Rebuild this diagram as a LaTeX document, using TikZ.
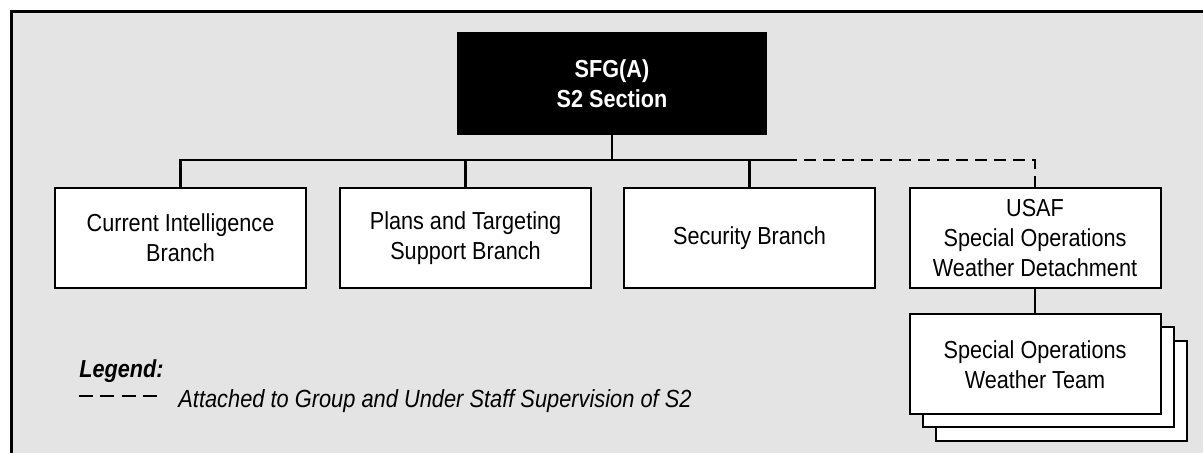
\documentclass[tikz,border=0pt]{standalone}
\usepackage{fontspec}
\setmainfont{Liberation Sans}[FakeStretch=0.88]
\definecolor{panelgray}{RGB}{228,228,228}

\begin{document}
\begin{tikzpicture}[x=0.5pt,y=0.5pt,
	branch/.style	=	{draw=black,fill=white,line width=1pt,minimum width=125.5pt,minimum height=50pt,
							inner sep=0pt,align=center,font=\fontsize{12.3pt}{15pt}\selectfont},
	headbox/.style	=	{branch,fill=black,text=white,minimum width=154pt,minimum height=50.5pt,
							font=\fontsize{12.3pt}{15pt}\selectfont\bfseries},
	conn/.style		=	{draw=black,line width=1.4pt},
	attached/.style	=	{conn,dash pattern=on 6pt off 3.5pt}]

	\useasboundingbox (0,0) rectangle (1203,453);
	\fill[panelgray,draw=black,line width=1.5pt] (11.5,441.5) rectangle (1260,-40);

	% the S2 section and its branches
	\node[headbox] (s2) at (612,369.5) {SFG(A)\\S2 Section};
	\node[branch] (cib)  at (180.5,215) {Current Intelligence\\Branch};
	\node[branch] (stb)  at (465.5,215) {Plans and Targeting\\Support Branch};
	\node[branch] (sec)  at (749.5,215) {Security Branch};
	\node[branch] (usaf) at (1035,215)  {USAF\\Special Operations\\Weather Detachment};

	% stacked weather teams
	\node[branch] (sowtC) at (1061.5,61.5) {};
	\node[branch] (sowtB) at (1048,75.5)   {};
	\node[branch] (sowt)  at (1035,88.5)   {Special Operations\\Weather Team};

	\coordinate (busend) at (797,293);
	\draw[conn] (cib.north) |- (busend);
	\draw[conn] (s2.south) -- (s2.south |- busend);
	\draw[conn] (stb.north) -- (stb.north |- busend);
	\draw[conn] (sec.north) -- (sec.north |- busend);
	\draw[attached,dash phase=6pt] (busend) -| (usaf.north);
	\draw[conn] (usaf.south) -- (sowt.north);

	% legend
	\node[anchor=base west,inner sep=0pt,font=\fontsize{12.3pt}{15pt}\selectfont\bfseries\itshape]
		(legend) at (79,75) {Legend:};
	\coordinate (legL) at (79,57);
	\coordinate (legR) at (157,57);
	\draw[attached,dash pattern=on 7pt off 3.65pt] (legL) -- (legR);
	\node[anchor=base west,inner sep=0pt,font=\fontsize{12.4pt}{15pt}\selectfont\itshape]
		(legtext) at (178,45) {Attached to Group and Under Staff Supervision of S2};
\end{tikzpicture}
\end{document}
